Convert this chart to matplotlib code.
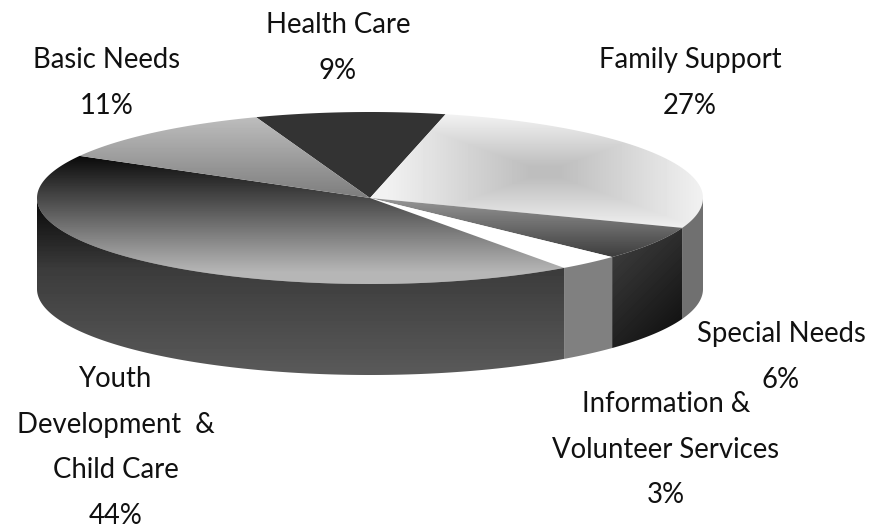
# 3D style pie chart, gray shades only

import numpy as np
from matplotlib import pyplot as plt
from matplotlib.patches import Polygon

# --------------------------------------------
# data
# --------------------------------------------

# clockwise from the Health Care wedge
categories = ["Health Care", "Family Support", "Special Needs",
              "Information & Volunteer Services", "Youth Development & Child Care", "Basic Needs"]
# wedge sizes as measured on the picture, the printed labels are rounded
values = [9.2, 27, 6.4, 3.05, 43.05, 11.3]

label_lines = [
    ["Health Care", "9%"],
    ["Family Support", "27%"],
    ["Special Needs", "6%"],
    ["Information &", "Volunteer Services", "3%"],
    ["Youth", "Development  &", "Child Care", "44%"],
    ["Basic Needs", "11%"],
]
label_pos = [(338, 25), (690, 60), (781, 334), (666, 404), (116, 379), (107, 60)]

# --------------------------------------------
# layout
# --------------------------------------------

W, H = 884, 528
CX, CY = 370, 198
RX, RY = 333, 86
DEPTH = 91
START = 110
LINE_STEP = 45.7

plt.rcParams['font.family'] = ['Lato', 'DejaVu Sans']

fig = plt.figure(figsize=(W / 100, H / 100), dpi=100)
ax = fig.add_axes([0, 0, 1, 1])

yy, xx = np.mgrid[0:H, 0:W] + 0.5


# point on the rim of the top face
def rim(t, drop=0):
    t = np.radians(t)
    return np.column_stack([CX + RX * np.cos(t), CY - RY * np.sin(t) + drop])


# draw a polygon filled with a gray image, clipped to the polygon
def shade(points, gray):
    poly = Polygon(points, closed=True, facecolor="none", edgecolor="none")
    ax.add_patch(poly)
    if np.isscalar(gray):
        gray = np.full((H, W), float(gray))
    im = ax.imshow(gray, cmap="gray", vmin=0, vmax=255, extent=(0, W, H, 0),
                   interpolation="bilinear", aspect="auto")
    im.set_clip_path(poly)


# top face wedge
def top_wedge(t1, t2):
    ts = np.linspace(t1, t2, 200)
    return np.vstack([[[CX, CY]], rim(ts)])


# side wall between two angles
def wall(t1, t2):
    ts = np.linspace(t1, t2, 200)
    return np.vstack([rim(ts), rim(ts[::-1], DEPTH)])


def ramp(v, v0, v1, g0, g1):
    return g0 + (g1 - g0) * np.clip((v - v0) / (v1 - v0), 0, 1)


# --------------------------------------------
# shades
# --------------------------------------------

# family support: square gradient, darker in the middle
box = np.maximum(np.abs(xx - 545) / 160, np.abs(yy - 172) / 58)
family_top = ramp(box, 0.1, 1.0, 190, 242)

top_shades = [
    51,
    family_top,
    ramp(yy, 198, 256, 150, 62),
    255,
    ramp(yy, 155, 272, 8, 182),
    ramp(yy, 113, 198, 192, 125),
]

youth_wall = np.interp(yy, [200, 270, 375], [8, 60, 90])
special_wall = ramp(xx + yy, 870, 1020, 58, 14)

wall_shades = [None, 112, special_wall, 128, youth_wall, None]

# --------------------------------------------
# drawing
# --------------------------------------------

# angles come from the values, clockwise
edges = START - np.concatenate([[0], np.cumsum(values)]) * 3.6

for i in range(len(values)):
    t1, t2 = edges[i], edges[i + 1]
    shade(top_wedge(t1, t2), top_shades[i])
    # only the front half of the wall can be seen
    a, b = min(t1, 0), max(t2, -180)
    if wall_shades[i] is not None and a > b:
        shade(wall(a, b), wall_shades[i])

for lines, (x, y) in zip(label_lines, label_pos):
    for n, line in enumerate(lines):
        ax.text(x, y + n * LINE_STEP, line, ha="center", va="center",
                fontsize=19.8, color="#111111")

ax.set_xlim(0, W)
ax.set_ylim(H, 0)
ax.axis("off")

fig.savefig("out.png", dpi=100, facecolor="white")
